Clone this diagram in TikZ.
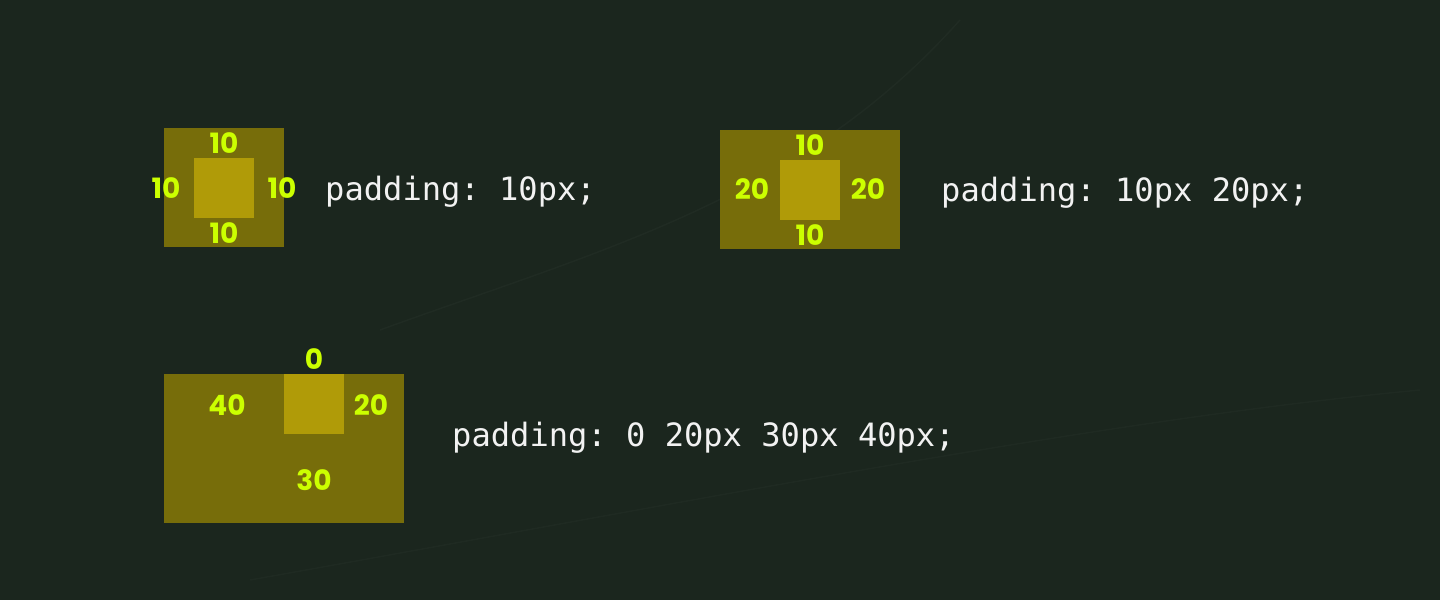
\documentclass[tikz,border=0pt]{standalone}
\usepackage{fontspec}
\newfontfamily\numfont{Poppins}
\newfontfamily\codefont{DejaVu Sans Mono}
\definecolor{board}{HTML}{1B261E}
\definecolor{padcol}{HTML}{776D0A}
\definecolor{contcol}{HTML}{B09B08}
\definecolor{lime}{HTML}{CCFF00}
\definecolor{chalk}{HTML}{F2F2F2}
\tikzset{
  padbox/.style={fill=padcol, draw=none, inner sep=0pt, outer sep=0pt},
  contbox/.style={fill=contcol, draw=none, inner sep=0pt, outer sep=0pt},
  num/.style={text=lime, font=\numfont\bfseries\fontsize{28}{28}\selectfont, inner sep=0pt},
  code/.style={text=chalk, font=\codefont\frenchspacing\fontsize{32.1}{33}\selectfont, inner sep=0pt, anchor=base west}
}
\begin{document}
\begin{tikzpicture}[x=1pt,y=-1pt]
\fill[board] (0,0) rectangle (1440,600);
\useasboundingbox (0,0) rectangle (1440,600);
% faint chalk scratches
\draw[white, opacity=0.025, line width=1.5pt] (380,330) .. controls (600,250) and (800,200) .. (960,20);
\draw[white, opacity=0.02, line width=1.5pt] (250,580) .. controls (700,500) and (1100,420) .. (1420,390);

% box 1
\node[padbox, minimum width=120pt, minimum height=119pt] (o1) at (224,187.5) {};
\node[contbox, minimum width=60pt, minimum height=60pt] (c1) at (224,188) {};
\node[num] (t1) at (224,143) {10};
\node[num] (l1) at (166,188) {10};
\node[num] (r1) at (282,188) {10};
\node[num] (b1) at (224,233) {10};
\node[code] (p1) at (325,200) {padding: 10px;};

% box 2
\node[padbox, minimum width=180pt, minimum height=119pt] (o2) at (810,189.5) {};
\node[contbox, minimum width=60pt, minimum height=60pt] (c2) at (810,190) {};
\node[num] (t2) at (810,145) {10};
\node[num] (l2) at (752,189) {20};
\node[num] (r2) at (868,189) {20};
\node[num] (b2) at (810,235) {10};
\node[code] (p2) at (941,201) {padding: 10px 20px;};

% box 3
\node[padbox, minimum width=240pt, minimum height=149pt] (o3) at (284,448.5) {};
\node[contbox, minimum width=60pt, minimum height=60pt] (c3) at (314,404) {};
\node[num] (t3) at (314,359) {0};
\node[num] (l3) at (227,405) {40};
\node[num] (r3) at (371,405) {20};
\node[num] (b3) at (314,480) {30};
\node[code] (p3) at (452,446) {padding: 0 20px 30px 40px;};
\end{tikzpicture}
\end{document}
